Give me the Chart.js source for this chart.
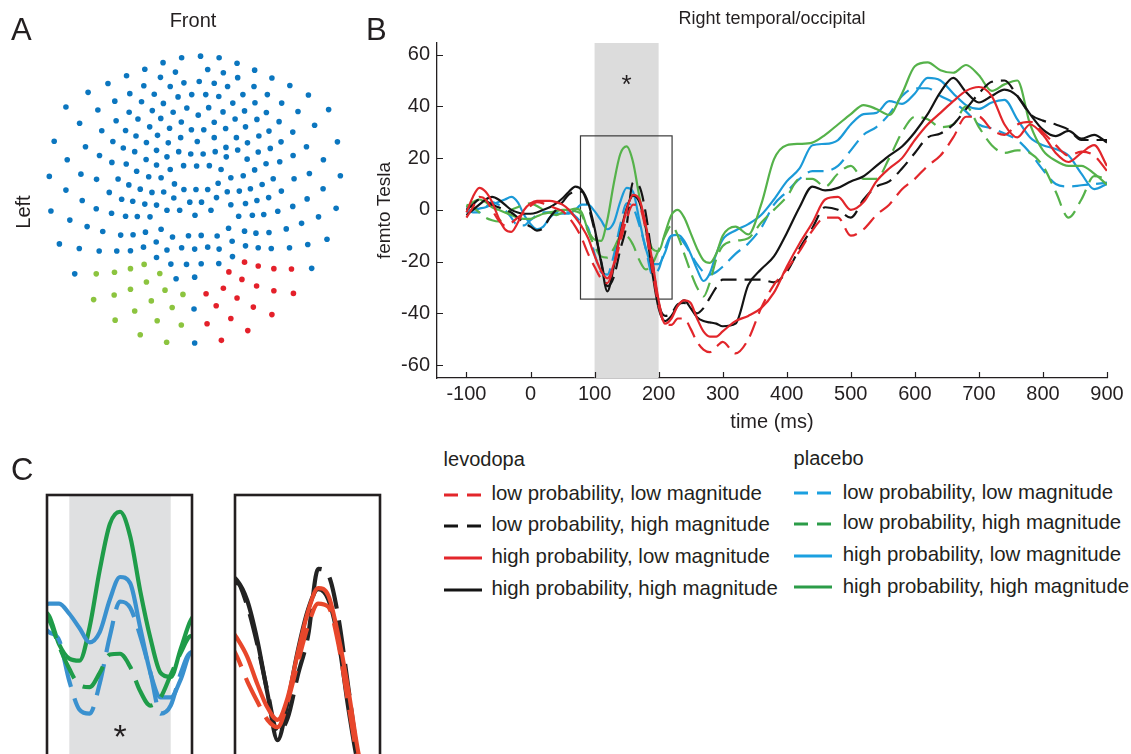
<!DOCTYPE html>
<html><head><meta charset="utf-8">
<script src="https://cdn.jsdelivr.net/npm/chart.js@4.4.1/dist/chart.umd.min.js"></script>
<style>
html,body{margin:0;padding:0;width:1131px;height:754px;overflow:hidden;background:#fff;}
body{position:relative;font-family:"Liberation Sans",Arial,Helvetica,sans-serif;color:#231f20;}
canvas{position:absolute;}
.t{position:absolute;white-space:nowrap;line-height:1;}
</style></head><body>
<canvas id="cA" width="360" height="360" style="left:0;top:0"></canvas>
<canvas id="cB" width="771" height="440" style="left:360px;top:0"></canvas>
<canvas id="cC1" width="160" height="280" style="left:40px;top:488px"></canvas>
<canvas id="cC2" width="160" height="280" style="left:228px;top:488px"></canvas>
<div id="labels"></div>
<script>
// ---------------- DATA ----------------
// Panel A: sensor layout positions (layout units, y downward)
const sensorsBlue = [
[545,165],[603,160],[660,165],[488,180],[715,182],
[432,200],[526,209],[625,201],[673,211],[769,203],
[376,220],[480,225],[717,226],[822,227],
[552,242],[599,238],[645,243],
[319,244],[429,251],[510,253],[686,253],[767,253],[877,250],
[258,271],[386,275],[461,277],[534,285],[576,278],[619,278],[659,284],[733,278],[808,278],[934,279],
[340,298],[422,300],[489,305],[702,304],[770,303],[852,304],
[190,316],[288,325],[561,319],[628,318],[738,328],[996,324],
[455,327],[384,332],[519,332],[596,341],[672,331],[805,333],[902,330],
[344,358],[411,353],[481,351],[544,362],[645,363],[709,353],[776,354],[844,361],
[232,366],[447,377],[508,381],[575,386],[613,386],[680,382],[741,377],[953,372],
[300,389],[373,388],[813,390],[886,393],
[405,405],[471,403],[542,410],[645,410],[713,410],[782,405],
[154,421],[334,422],[437,425],[504,426],[593,422],[747,426],[850,423],[1023,423],
[250,438],[366,442],[681,440],[817,443],[928,438],
[401,453],[468,449],[536,453],[573,460],[611,460],[648,453],[717,448],[780,454],
[293,465],[436,477],[500,469],[682,469],[746,476],[887,465],
[194,478],[331,486],[375,491],[468,494],[551,496],[591,497],[630,496],[804,490],[846,484],[980,478],
[407,513],[510,508],[666,508],[769,509],
[139,529],[236,522],[284,538],[350,537],[444,530],[482,533],[696,533],[734,527],[826,536],[890,536],[937,520],[1032,527],
[383,555],[523,552],[657,550],[792,554],
[418,568],[454,578],[490,577],[552,569],[589,569],[625,569],[685,576],[722,574],[756,567],[851,574],[979,567],
[190,571],[323,578],[240,603],[361,599],[395,605],[432,614],[468,617],[521,595],[570,608],[606,608],[652,594],[741,612],[776,603],[812,594],[930,598],
[144,635],[283,628],[330,642],[373,651],[409,652],[448,653],[500,633],[539,633],[586,648],[635,633],[696,616],[720,651],[762,648],[797,646],[840,636],[886,621],[965,653],[1019,627],
[202,663],[255,683],[303,698],[358,709],[396,708],[434,700],[482,691],[517,715],[566,711],[605,710],[654,712],[689,688],[738,697],[773,703],[813,701],[866,690],[913,673],
[170,736],[231,750],[292,758],[346,758],[388,757],[428,746],[467,730],[500,755],[545,748],[585,752],[625,746],[660,752],[700,728],[741,742],[780,748],[820,750],[876,748],[932,738],[991,722],
[468,778],[512,798],[560,799],[605,797],[659,796],[701,775],
[217,828],[528,843],[585,838],[944,811],
[583,936],[585,1040]
];
const sensorsGreen = [
[283,828],[339,823],[388,812],[430,799],[478,827],[437,853],[388,875],[494,878],[549,891],[338,893],
[275,907],[452,911],[401,942],[516,931],[341,970],[470,972],[544,985],[418,1015],[499,1038]
];
const sensorsRed = [
[738,792],[780,804],[828,812],[882,813],[690,822],[730,845],[775,865],[828,880],[888,888],[620,889],
[673,872],[715,902],[651,926],[765,930],[822,953],[696,965],[623,981],[748,1002],[667,1032]
];

// Panel B: time (ms) and field (fT)
const times = [-100,-90,-80,-70,-60,-50,-40,-30,-20,-10,0,10,20,30,40,50,60,70,80,90,
100,110,120,130,140,150,160,170,180,190,200,210,220,230,240,250,260,270,280,290,
300,320,340,360,380,400,420,440,460,480,500,520,540,560,580,600,620,640,660,680,
700,720,740,760,780,800,820,840,860,880,900];

const levodopaLowProbLowMag = [
-3,1,5,4,0,-4,-6,-5,-3,-1,
1.5,3,2.5,1.5,0.5,-0.5,-3,-6.5,-11,-17,
-22,-26.5,-28.3,-22,-12.5,-3.5,2,1.2,-8,-23,
-37,-44,-44.5,-42,-42,-46,-51,-54,-55,-53,
-51,-55.5,-50,-38,-29,-23,-16,-8,-3,-3,
-10,-7.5,-2,2,8,12,17,21,28,36,
36,31,29,33,34,30,25,21,22.5,21,
15];
const levodopaLowProbHighMag = [
0,2,4,3.5,2,1,0,-1,-3,-5,
-6.5,-8,-7,-3,0,3,6,7,7,1.5,
-8,-19.5,-29.5,-26,-15.5,-6,10.5,9,-1.5,-19,
-36,-41,-40,-36.5,-36,-38,-40,-38,-34,-30,
-27,-27,-27,-27,-28,-24,-15,-7,1,0,
-3,4,9,11,16,22,28,29.5,33,39,
45,49.5,50,44,37,34.5,33,31,27,27,
27];
const levodopaHighProbLowMag = [
-1,5,8.5,7,3,-3,-7.5,-8.5,-5,0,
2.5,3.5,3.5,3.5,3,2,0,-3,-6.5,-11,
-17.7,-23.5,-26.5,-21,-10,0,5.8,4,-6,-19.5,
-35,-44,-42,-37,-35,-36,-42,-47,-49,-49,
-47,-43,-41,-38,-32,-22,-13,-5,4,5,
0,3,11,16,20,27,33,37.5,42,46,
47.5,44,33,28,33,29,22,18.5,22,25,
17];
const levodopaHighProbHighMag = [
-2,0,2,4,5,4,2,0,-1,-1.5,
-1.5,-1,0,1,2.5,4.5,7,9,7.7,2.8,
-7,-20,-31.5,-22,-9.5,0.5,5.5,3,-7,-24,
-38,-43,-41,-37,-35,-38,-41.5,-43,-43.5,-44,
-45,-44,-29,-23,-18,-9,1,9,7.5,8.5,
11,13,17,21,24.5,30,37,45.5,51,45.5,
41.5,44,46.5,44,37,31,28.5,30.5,27.5,29,
26];
const placeboLowProbLowMag = [
1,-1,-1,1,3,2,0,-3,-6,-6,
-4,-2,-1,-1,-1,-1,-1,-2.5,-5,-7,
-17,-24,-25,-17.6,-6,2.5,1,-6,-15,-25,
-23,-15,-10,-10,-13,-17,-21,-24,-25,-24,
-22,-17,-13,-7,2,7,12,15,15,17,
23,29,32,37,44,47,47,44,41.5,38,
33,31.5,29.5,27,22,15.5,10,9,9.5,10,
10.5];
const placeboLowProbHighMag = [
2,1,-1,-3,-4,-4.5,-2,0,1,2,
2.5,1.5,0,-1,-2,-1,0,-0.5,-2,-8.5,
-14,-18,-18.5,-15,-10.5,-10.3,-13.5,-19.5,-23,-21,
-15.5,-10,-6,-10,-17,-24,-30,-33.5,-28,-19,
-14,-12,-11,-5,0,5,12,12,9,14,
17,12,12,20,30,36,35,32,33,40,
32,25,22,23,22,17,7,-3,4,13,
12];
const placeboHighProbLowMag = [
-1,0,0.5,1,2,3,4,5,3,-2,
-5.5,-7.5,-6.5,-3,-1.5,-1.5,-1.5,0,2,2,
-0.5,-4,-7.5,-5,3,8.5,7,-4,-15,-21,
-21,-16.5,-10,-9.7,-12,-17,-23,-27.5,-24.5,-17,
-11.5,-8,-5.5,-2,4,11,16,25,25.5,27,
33,37,37.5,42,41,45,51,50,45,40.5,
39,41.5,42.5,35,28,25,23.5,21,14,8,
10];
const placeboHighProbHighMag = [
1,3,4,3,1,0,-1,-2,-3,-3.5,
-3.5,-2.5,-1.5,-1,-0.5,0,0,0.5,-1,-8,
-11.5,-12,-3.8,10.2,21.5,24.5,18.5,5,-6.5,-15,
-16,-9,-2,0,-3,-9,-15,-19.5,-20.5,-17,
-10,-6.5,-9.5,2,19.5,25,25.5,26,29,33,
37,40.5,39,36.7,45,55.5,57,54,53,56,
52,46,48.5,50,33,23,19,17,17,14,
9.7];

const xTicks = [-100,0,100,200,300,400,500,600,700,800,900];
const yTicks = [-60,-40,-20,0,20,40,60];
const sigWindow = [100,200];          // ms, shaded window
const zoomBox = [78,221,-34.5,28.6];  // ms, ms, fT, fT (region enlarged in C)
const starB = [150,51];
const starC = [150,-28.6];

const seriesLabels = ['low probability, low magnitude','low probability, high magnitude',
  'high probability, low magnitude','high probability, high magnitude'];

// ---------------- STYLE ----------------
const FONT = '"Liberation Sans", Arial, Helvetica, sans-serif';
const TXT = '#231f20';
const COL = {red:'#e2262b', black:'#141414', blue:'#1b9ad8', green:'#55b24a'};
const COLC = {red:'#e8472b', black:'#232323', blue:'#3a91cf', green:'#1f9c49'};
const COLL = {red:'#e3262b', black:'#141414', blue:'#1ba0e0', green:'#2b9c48'};
Chart.defaults.font.family = FONT;
Chart.defaults.color = TXT;

function line(values, color, dashed, width, dash){
  return {data: times.map((t,i)=>({x:t,y:values[i]})), borderColor:color, borderWidth:width,
    borderDash: dashed ? dash : [], pointRadius:0, fill:false, cubicInterpolationMode:'monotone',
    clip:0, borderCapStyle:'butt', borderJoinStyle:'round'};
}

// ---------------- PANEL A ----------------
function pts(arr){ return arr.map(p=>({x:p[0],y:p[1]})); }
new Chart(document.getElementById('cA'), {
  type:'scatter',
  data:{datasets:[
    {data:pts(sensorsBlue), backgroundColor:'#0b76bf', pointRadius:2.8, borderWidth:0},
    {data:pts(sensorsGreen), backgroundColor:'#8cc43f', pointRadius:2.8, borderWidth:0},
    {data:pts(sensorsRed), backgroundColor:'#e4202a', pointRadius:2.8, borderWidth:0}
  ]},
  options:{responsive:false, animation:false, events:[],
    layout:{padding:0},
    plugins:{legend:{display:false}, tooltip:{enabled:false}},
    scales:{x:{type:'linear',display:false,min:0,max:1080}, y:{type:'linear',display:false,min:0,max:1080,reverse:true}}
  }
});

// ---------------- PANEL B ----------------
const decorB = {
  id:'decorB',
  beforeDatasetsDraw(chart){
    const {ctx, chartArea:a, scales:{x,y}} = chart;
    ctx.save();
    ctx.fillStyle = '#dcdcdc';
    const x0 = x.getPixelForValue(sigWindow[0]), x1 = x.getPixelForValue(sigWindow[1]);
    ctx.fillRect(x0, a.top, x1-x0, a.bottom-a.top);
    ctx.strokeStyle = '#3a3a3a'; ctx.lineWidth = 1.2;
    const bx0 = x.getPixelForValue(zoomBox[0]), bx1 = x.getPixelForValue(zoomBox[1]);
    const by0 = y.getPixelForValue(zoomBox[3]), by1 = y.getPixelForValue(zoomBox[2]);
    ctx.strokeRect(bx0, by0, bx1-bx0, by1-by0);
    ctx.fillStyle = TXT; ctx.font = '26px '+FONT; ctx.textAlign='center'; ctx.textBaseline='alphabetic';
    ctx.fillText('*', x.getPixelForValue(starB[0]), y.getPixelForValue(starB[1]) + 26*0.57);
    ctx.restore();
  },
  afterDraw(chart){
    const {ctx, chartArea:a, scales:{x,y}} = chart;
    ctx.save(); ctx.strokeStyle = TXT; ctx.lineWidth = 1.2; ctx.beginPath();
    xTicks.forEach(v=>{ const p = Math.round(x.getPixelForValue(v))+0.5; ctx.moveTo(p,a.bottom); ctx.lineTo(p,a.bottom-6); });
    yTicks.forEach(v=>{ const p = Math.round(y.getPixelForValue(v))+0.5; ctx.moveTo(a.left,p); ctx.lineTo(a.left+6,p); });
    ctx.stroke(); ctx.restore();
  }
};
const DASH_B = [16,8];
new Chart(document.getElementById('cB'), {
  type:'line',
  data:{datasets:[
    line(levodopaLowProbLowMag, COL.red, true, 2.2, DASH_B),
    line(levodopaHighProbLowMag, COL.red, false, 2.2, DASH_B),
    line(levodopaLowProbHighMag, COL.black, true, 2.2, DASH_B),
    line(levodopaHighProbHighMag, COL.black, false, 2.2, DASH_B),
    line(placeboLowProbHighMag, COL.green, true, 2.2, DASH_B),
    line(placeboHighProbHighMag, COL.green, false, 2.2, DASH_B),
    line(placeboLowProbLowMag, COL.blue, true, 2.2, DASH_B),
    line(placeboHighProbLowMag, COL.blue, false, 2.2, DASH_B)
  ]},
  options:{responsive:false, animation:false, events:[],
    layout:{padding:{top:43,right:24,left:0,bottom:0}},
    plugins:{legend:{display:false}, tooltip:{enabled:false}},
    scales:{
      x:{type:'linear', min:-146, max:900,
        afterBuildTicks:s=>{ s.ticks = xTicks.map(v=>({value:v})); },
        afterFit:s=>{ s.height = 62; },
        grid:{display:true, drawOnChartArea:false, drawTicks:false},
        border:{display:true, color:TXT, width:1.3},
        ticks:{padding:4, font:{size:20}, color:TXT, maxRotation:0, autoSkip:false},
        title:{display:true, text:'time (ms)', font:{size:20}, color:TXT, padding:{top:0,bottom:6}}
      },
      y:{type:'linear', min:-65, max:64.5,
        afterBuildTicks:s=>{ s.ticks = yTicks.map(v=>({value:v})); },
        afterFit:s=>{ s.width = 77; },
        grid:{display:true, drawOnChartArea:false, drawTicks:false},
        border:{display:true, color:TXT, width:1.3},
        ticks:{padding:7, font:{size:20}, color:TXT, autoSkip:false},
        title:{display:true, text:'femto Tesla', font:{size:19}, color:TXT, padding:{top:13.6,bottom:0}}
      }
    }
  },
  plugins:[decorB]
});

// ---------------- PANEL C ----------------
function insetDecor(withBand){
  return {
    id:'insetDecor',
    beforeDatasetsDraw(chart){
      if(!withBand) return;
      const {ctx, chartArea:a, scales:{x,y}} = chart;
      ctx.save(); ctx.fillStyle = '#dfe0e1';
      const x0 = x.getPixelForValue(sigWindow[0]), x1 = x.getPixelForValue(sigWindow[1]);
      ctx.fillRect(x0, a.top, x1-x0, a.bottom-a.top);
      ctx.fillStyle = TXT; ctx.font = '34px '+FONT; ctx.textAlign='center'; ctx.textBaseline='alphabetic';
      ctx.fillText('*', x.getPixelForValue(starC[0]), y.getPixelForValue(starC[1]) + 34*0.57);
      ctx.restore();
    },
    afterDraw(chart){
      const {ctx, chartArea:a} = chart;
      ctx.save(); ctx.strokeStyle = TXT; ctx.lineWidth = 2.6;
      ctx.strokeRect(a.left, a.top, a.right-a.left, a.bottom-a.top);
      ctx.restore();
    }
  };
}
const DASH_C = [32,12];
function inset(id, sets, withBand){
  new Chart(document.getElementById(id), {
    type:'line', data:{datasets:sets},
    options:{responsive:false, animation:false, events:[],
      layout:{padding:{left:7,right:8,top:7,bottom:9}},
      plugins:{legend:{display:false}, tooltip:{enabled:false}},
      scales:{x:{type:'linear',display:false,min:zoomBox[0],max:zoomBox[1]},
              y:{type:'linear',display:false,min:-36.1,max:zoomBox[3]}}
    },
    plugins:[insetDecor(withBand)]
  });
}
inset('cC1', [
  line(placeboLowProbHighMag, COLC.green, true, 4.2, DASH_C),
  line(placeboLowProbLowMag, COLC.blue, true, 4.2, DASH_C),
  line(placeboHighProbLowMag, COLC.blue, false, 4.2, DASH_C),
  line(placeboHighProbHighMag, COLC.green, false, 4.2, DASH_C)
], true);
inset('cC2', [
  line(levodopaHighProbLowMag, COLC.red, false, 4.2, DASH_C),
  line(levodopaLowProbLowMag, COLC.red, true, 4.2, DASH_C),
  line(levodopaHighProbHighMag, COLC.black, false, 4.2, DASH_C),
  line(levodopaLowProbHighMag, COLC.black, true, 4.2, DASH_C)
], false);

// ---------------- TEXT LABELS & LEGEND ----------------
const L = document.getElementById('labels');
function txt(s, left, baseline, size, extra){
  const d = document.createElement('div'); d.className='t'; d.textContent = s;
  d.style.fontSize = size+'px';
  d.style.left = left+'px'; d.style.top = (baseline - 0.8465*size)+'px';
  if(extra) Object.assign(d.style, extra);
  L.appendChild(d); return d;
}
txt('A', 11, 40, 31);
txt('B', 366, 40, 31);
txt('C', 11, 480, 31);
txt('Front', 193, 26.7, 20, {transform:'translateX(-50%)'});
txt('Right temporal/occipital', 772, 24, 18, {transform:'translateX(-50%)'});
const lf = document.createElement('div'); lf.className='t'; lf.textContent='Left';
Object.assign(lf.style,{fontSize:'20px', left:'23px', top:'212px', transform:'translate(-50%,-50%) rotate(-90deg)'});
L.appendChild(lf);

function sample(left, y, color, dashed){
  const ns='http://www.w3.org/2000/svg';
  const svg = document.createElementNS(ns,'svg');
  svg.setAttribute('width','40'); svg.setAttribute('height','8');
  Object.assign(svg.style,{position:'absolute', left:left+'px', top:(y-4)+'px'});
  const ln = document.createElementNS(ns,'line');
  ln.setAttribute('x1','0'); ln.setAttribute('x2','38'); ln.setAttribute('y1','4'); ln.setAttribute('y2','4');
  ln.setAttribute('stroke',color); ln.setAttribute('stroke-width','3');
  if(dashed) ln.setAttribute('stroke-dasharray','14 9');
  svg.appendChild(ln); L.appendChild(svg);
}
const legendLeft = {title:'levodopa', x:443.6, tx:491.4, titleBase:466, rows:[500,531,563,595],
  styles:[[COLL.red,true],[COLL.black,true],[COLL.red,false],[COLL.black,false]]};
const legendRight = {title:'placebo', x:793.6, tx:842.7, titleBase:465, rows:[498.5,529,561,592.5],
  styles:[[COLL.blue,true],[COLL.green,true],[COLL.blue,false],[COLL.green,false]]};
[legendLeft, legendRight].forEach(g=>{
  txt(g.title, g.x, g.titleBase, 20);
  g.rows.forEach((b,i)=>{
    sample(g.x, b-5.5, g.styles[i][0], g.styles[i][1]);
    txt(seriesLabels[i], g.tx, b, 20, {fontSize:'20.4px'});
  });
});
</script>
</body></html>
